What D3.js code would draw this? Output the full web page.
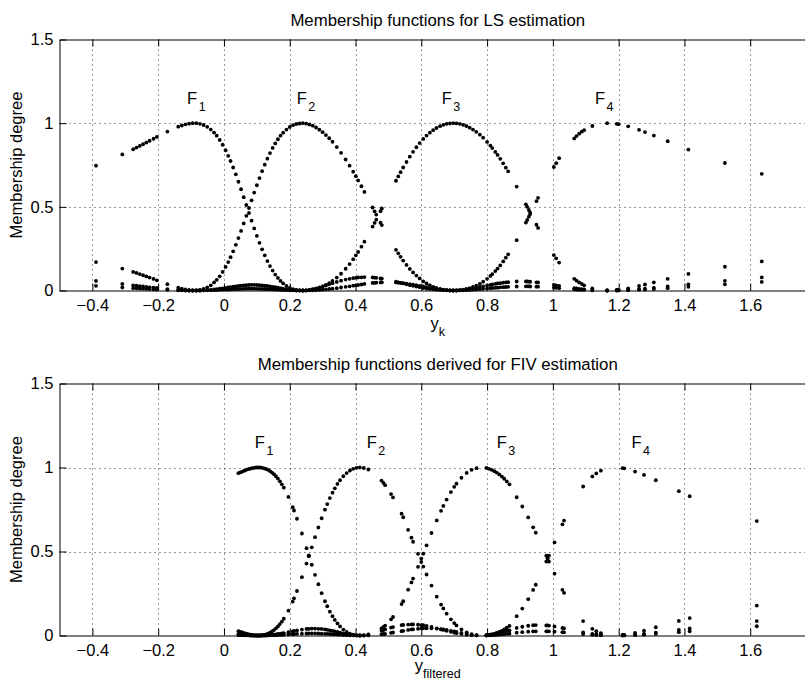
<!DOCTYPE html>
<html>
<head>
<meta charset="utf-8">
<script src="https://cdn.jsdelivr.net/npm/d3@7"></script>
<style>
body { margin: 0; background: #fff; }
text { font-family: Arial, "Liberation Sans", Helvetica, sans-serif; }
</style>
</head>
<body>
<script>
// ---- LS estimation (upper plot): sample positions and the four memberships ----
var lsX = [-0.389,-0.309,-0.276,-0.266,-0.256,-0.246,-0.236,-0.226,-0.214,-0.204,-0.172,-0.139,-0.128,-0.117,-0.106,-0.095,-0.084,-0.073,-0.062,-0.051,
  -0.040,-0.030,-0.022,-0.013,-0.004,0.005,0.013,0.020,0.028,0.036,0.044,0.052,0.060,0.068,0.076,0.084,0.092,0.100,0.108,0.116,
  0.124,0.132,0.140,0.148,0.156,0.164,0.172,0.180,0.190,0.200,0.210,0.220,0.230,0.240,0.250,0.260,0.270,0.280,0.290,0.300,
  0.310,0.320,0.330,0.343,0.356,0.370,0.382,0.393,0.401,0.408,0.418,0.427,0.452,0.458,0.463,0.476,0.480,0.523,0.530,0.537,
  0.545,0.555,0.565,0.575,0.585,0.595,0.606,0.616,0.626,0.636,0.646,0.657,0.667,0.677,0.687,0.697,0.707,0.717,0.727,0.737,
  0.747,0.757,0.767,0.778,0.788,0.800,0.810,0.816,0.825,0.832,0.840,0.849,0.857,0.864,0.890,0.918,0.922,0.927,0.931,0.950,
  0.955,1.003,1.010,1.019,1.065,1.072,1.080,1.088,1.095,1.120,1.165,1.194,1.200,1.229,1.262,1.280,1.307,1.349,1.412,1.523,1.635];
var lsF1 = [.746,.813,.844,.854,.864,.874,.884,.895,.907,.918,.950,.979,.986,.993,.997,1,1,.996,.989,.978,
  .962,.944,.925,.900,.871,.838,.805,.774,.735,.694,.650,.605,.558,.511,.463,.417,.371,.327,.285,.246,
  .210,.176,.146,.119,.095,.075,.057,.042,.027,.016,.008,.003,.001,0,.001,.004,.008,.013,.019,.025,
  .031,.037,.044,.051,.059,.065,.070,.074,.076,.078,.079,.080,.078,.077,.076,.072,.071,.053,.049,.046,
  .042,.037,.032,.028,.024,.020,.015,.012,.009,.007,.005,.003,.002,.001,0,0,0,.001,.001,.002,
  .003,.005,.006,.008,.010,.012,.014,.015,.016,.017,.019,.020,.021,.022,.024,.025,.025,.025,.024,.023,
  .023,.017,.016,.014,.007,.006,.005,.004,.004,.001,0,0,.001,.002,.005,.006,.009,.014,.022,.037,.051];
var lsF2 = [.170,.131,.111,.105,.098,.091,.084,.077,.069,.061,.038,.017,.011,.006,.002,0,0,.003,.009,.018,
  .031,.048,.064,.085,.111,.141,.170,.199,.234,.273,.313,.356,.401,.446,.493,.539,.585,.629,.672,.713,
  .752,.788,.821,.852,.879,.904,.925,.943,.962,.977,.988,.995,.998,1,.997,.992,.985,.974,.961,.946,
  .929,.910,.889,.857,.823,.783,.746,.710,.683,.658,.623,.589,.496,.473,.454,.405,.391,.243,.222,.201,
  .179,.153,.129,.108,.089,.072,.055,.042,.031,.022,.015,.009,.005,.002,.001,0,0,.002,.004,.006,
  .009,.013,.017,.021,.025,.030,.034,.036,.039,.042,.044,.047,.049,.050,.054,.054,.054,.053,.053,.049,
  .048,.034,.031,.028,.014,.012,.010,.008,.007,.003,0,.001,.001,.004,.008,.011,.016,.024,.037,.058,.078];
var lsF3 = [.057,.039,.031,.029,.026,.024,.022,.019,.017,.015,.008,.003,.002,.001,0,0,0,0,.001,.003,
  .004,.006,.008,.011,.013,.016,.018,.020,.023,.025,.027,.029,.031,.032,.033,.034,.034,.033,.032,.031,
  .029,.027,.025,.022,.020,.017,.014,.011,.008,.005,.003,.001,.001,0,.001,.003,.006,.010,.016,.024,
  .033,.044,.057,.077,.100,.130,.158,.187,.210,.230,.262,.292,.382,.404,.423,.474,.490,.656,.682,.707,
  .735,.768,.800,.829,.856,.881,.906,.926,.943,.958,.971,.982,.990,.996,.998,1,.999,.996,.990,.983,
  .973,.962,.948,.931,.913,.888,.866,.851,.828,.810,.787,.760,.734,.712,.621,.515,.500,.481,.465,.393,
  .374,.212,.192,.167,.070,.059,.048,.039,.031,.012,0,.003,.004,.013,.027,.036,.049,.070,.099,.142,.174];
var lsF4 = [.028,.018,.014,.013,.012,.011,.010,.009,.007,.006,.004,.001,.001,0,0,0,0,0,.001,.001,
  .002,.002,.003,.004,.005,.006,.006,.007,.008,.009,.009,.010,.010,.011,.011,.011,.011,.010,.010,.009,
  .009,.008,.007,.007,.006,.005,.004,.003,.002,.001,.001,0,0,0,0,.001,.001,.002,.004,.005,
  .007,.009,.011,.014,.018,.022,.025,.029,.031,.033,.036,.039,.045,.046,.047,.048,.049,.048,.047,.046,
  .044,.041,.038,.035,.032,.028,.024,.020,.016,.013,.009,.006,.004,.002,.001,0,.001,.002,.005,.009,
  .014,.021,.029,.040,.053,.070,.087,.098,.116,.131,.150,.174,.196,.216,.301,.406,.422,.441,.457,.534,
  .554,.738,.761,.791,.909,.923,.937,.949,.958,.983,1,.996,.994,.981,.960,.947,.926,.892,.842,.762,.697];

// ---- FIV estimation (lower plot) ----
var fivX = [0.044,0.050,0.056,0.062,0.068,0.074,0.080,0.086,0.092,0.098,0.104,0.110,0.116,0.122,0.128,0.134,0.140,0.146,0.152,0.158,
  0.164,0.170,0.176,0.182,0.196,0.209,0.213,0.222,0.237,0.251,0.258,0.267,0.277,0.287,0.297,0.307,0.314,0.322,0.330,0.337,
  0.345,0.353,0.363,0.373,0.383,0.393,0.403,0.413,0.425,0.439,0.479,0.485,0.490,0.508,0.514,0.540,0.545,0.560,0.570,0.575,
  0.590,0.600,0.606,0.616,0.631,0.647,0.660,0.667,0.677,0.690,0.700,0.707,0.722,0.738,0.753,0.768,0.798,0.806,0.814,0.822,
  0.829,0.837,0.845,0.852,0.860,0.868,0.890,0.907,0.925,0.940,0.948,0.980,0.984,0.988,1.005,1.029,1.034,1.092,1.120,1.132,
  1.146,1.212,1.217,1.250,1.277,1.313,1.383,1.416,1.620];
var fivF1 = [.966,.971,.976,.981,.986,.990,.993,.996,.998,1,1,1,.998,.995,.991,.986,.979,.970,.960,.948,
  .934,.918,.900,.880,.825,.764,.744,.695,.607,.520,.477,.421,.361,.305,.252,.204,.174,.142,.115,.093,
  .072,.054,.035,.021,.011,.005,.001,0,.001,.006,.029,.032,.036,.047,.050,.062,.063,.065,.066,.066,
  .064,.062,.061,.057,.051,.043,.036,.033,.028,.022,.017,.014,.009,.005,.002,.001,0,.001,.002,.003,
  .004,.005,.007,.008,.010,.011,.017,.020,.023,.024,.025,.025,.025,.025,.023,.020,.019,.009,.004,.003,
  .002,0,.001,.003,.005,.010,.020,.025,.055];
var fivF2 = [.026,.021,.018,.014,.011,.008,.005,.003,.001,0,0,0,.002,.004,.007,.011,.017,.024,.032,.043,
  .054,.068,.083,.100,.148,.202,.221,.265,.347,.428,.471,.525,.585,.643,.698,.749,.782,.818,.850,.876,
  .902,.924,.948,.967,.982,.992,.998,1,.997,.988,.922,.908,.895,.842,.822,.725,.704,.629,.582,.558,
  .486,.438,.410,.363,.297,.231,.184,.161,.130,.096,.074,.060,.037,.019,.008,.002,.002,.003,.006,.009,
  .012,.016,.019,.023,.027,.031,.045,.052,.058,.061,.062,.060,.060,.059,.054,.045,.043,.018,.009,.006,
  .004,.001,.001,.005,.010,.017,.034,.042,.086];
var fivF3 = [.006,.005,.004,.003,.002,.002,.001,.001,0,0,0,0,0,.001,.001,.002,.003,.004,.005,.007,
  .009,.010,.012,.014,.020,.025,.027,.030,.035,.039,.040,.041,.041,.040,.039,.036,.034,.031,.028,.025,
  .021,.017,.013,.009,.005,.003,.001,0,.001,.005,.042,.051,.059,.096,.110,.187,.204,.273,.316,.339,
  .409,.458,.487,.537,.610,.685,.742,.771,.809,.854,.885,.904,.939,.968,.986,.996,.997,.992,.986,.978,
  .970,.959,.946,.933,.917,.900,.823,.768,.703,.644,.612,.475,.458,.440,.368,.272,.254,.086,.040,.026,
  .014,.003,.004,.016,.029,.049,.087,.104,.178];
var fivF4 = [.003,.002,.002,.001,.001,.001,0,0,0,0,0,0,0,0,0,.001,.001,.002,.002,.003,
  .003,.004,.004,.005,.007,.008,.009,.010,.011,.012,.013,.013,.013,.012,.011,.010,.010,.009,.008,.007,
  .006,.005,.003,.002,.001,.001,0,0,0,.001,.008,.009,.010,.016,.018,.026,.028,.033,.036,.037,
  .040,.042,.043,.043,.043,.041,.038,.036,.033,.028,.024,.021,.015,.009,.004,.001,.001,.003,.006,.010,
  .015,.021,.028,.036,.046,.057,.115,.160,.216,.271,.302,.440,.458,.476,.554,.662,.684,.887,.947,.965,
  .981,.996,.995,.976,.956,.924,.859,.829,.681];

// axis ticks and the F_i annotations
var xTicks = [-0.4, -0.2, 0, 0.2, 0.4, 0.6, 0.8, 1, 1.2, 1.4, 1.6];
var yTicks = [0, 0.5, 1, 1.5];
var ruleNames = ["1", "2", "3", "4"];
var lsLabelX = [-0.112, 0.221, 0.662, 1.128];
var fivLabelX = [0.094, 0.434, 0.829, 1.239];
var labelY = 1.117;

var width = 805,
    height = 680,
    left = 59.5,
    tick = 7;

var svg = d3.select("body").append("svg")
    .attr("width", width)
    .attr("height", height)
    .style("background", "#fff");

var x = d3.scaleLinear().domain([-0.5, 1.8]).range([left, 816]);
var fmt = d3.format("");
var midX = (x.range()[0] + x.range()[1]) / 2;

var panels = [
  { top: 39.5, bottom: 290.5, title: "Membership functions for LS estimation",
    xs: lsX, series: [lsF1, lsF2, lsF3, lsF4], labelX: lsLabelX, sub: "k", labelBase: 329 },
  { top: 383.5, bottom: 635.5, title: "Membership functions derived for FIV estimation",
    xs: fivX, series: [fivF1, fivF2, fivF3, fivF4], labelX: fivLabelX, sub: "filtered", labelBase: 671 }
];

panels.forEach(function(p) {
  var y = d3.scaleLinear().domain([0, 1.5]).range([p.bottom, p.top]);
  var g = svg.append("g");

  // dotted grid
  g.selectAll(".gx").data(xTicks).enter().append("line")
      .attr("x1", function(d) { return Math.round(x(d)) + 0.5; })
      .attr("x2", function(d) { return Math.round(x(d)) + 0.5; })
      .attr("y1", p.top).attr("y2", p.bottom)
      .attr("stroke", "#333").attr("stroke-dasharray", "1,4");
  g.selectAll(".gy").data([0.5, 1]).enter().append("line")
      .attr("x1", left).attr("x2", width)
      .attr("y1", function(d) { return Math.round(y(d)) + 0.5; })
      .attr("y2", function(d) { return Math.round(y(d)) + 0.5; })
      .attr("stroke", "#333").attr("stroke-dasharray", "1,4");

  // membership degree dots
  p.series.forEach(function(s) {
    g.selectAll(null).data(p.xs).enter().append("circle")
        .attr("cx", function(d) { return x(d); })
        .attr("cy", function(d, i) { return y(s[i]); })
        .attr("r", 1.9)
        .attr("fill", "#000");
  });

  // axes, ticks inside like matlab
  var ax = g.append("g").attr("transform", "translate(0," + p.bottom + ")")
      .call(d3.axisBottom(x).tickValues(xTicks).tickSize(-tick).tickSizeOuter(0).tickPadding(9).tickFormat(fmt));
  var at = g.append("g").attr("transform", "translate(0," + p.top + ")")
      .call(d3.axisTop(x).tickValues(xTicks).tickSize(-tick).tickSizeOuter(0).tickFormat(""));
  var al = g.append("g").attr("transform", "translate(" + left + ",0)")
      .call(d3.axisLeft(y).tickValues(yTicks).tickSize(-tick).tickSizeOuter(0).tickPadding(6).tickFormat(fmt));
  [ax, at, al].forEach(function(a) {
    a.attr("font-family", null).attr("font-size", 16.5);
    a.selectAll("path, line").attr("stroke", "#000");
    a.selectAll("text").attr("fill", "#000");
  });

  // title and labels
  g.append("text")
      .attr("x", midX).attr("y", p.top - 13.5)
      .attr("text-anchor", "middle").attr("font-size", 16.8)
      .text(p.title);

  g.append("text")
      .attr("transform", "translate(22," + (p.top + p.bottom) / 2 + ") rotate(-90)")
      .attr("text-anchor", "middle").attr("font-size", 16.5)
      .text("Membership degree");

  var xl = g.append("text")
      .attr("x", midX).attr("y", p.labelBase)
      .attr("text-anchor", "middle").attr("font-size", 16.5);
  xl.append("tspan").text("y");
  xl.append("tspan").attr("dy", 7).attr("font-size", 12.5).text(p.sub);

  p.labelX.forEach(function(lx, i) {
    var t = g.append("text")
        .attr("x", x(lx)).attr("y", y(labelY))
        .attr("font-size", 16.5);
    t.append("tspan").text("F");
    t.append("tspan").attr("dx", 1.5).attr("dy", 7).attr("font-size", 12.5).text(ruleNames[i]);
  });
});
</script>
</body>
</html>
